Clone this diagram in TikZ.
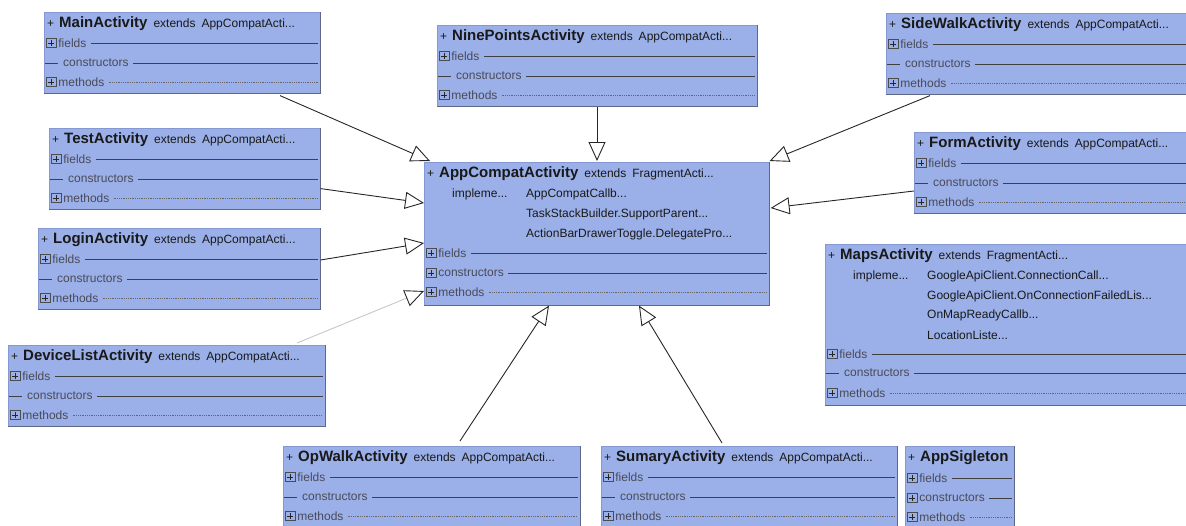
\documentclass[tikz,border=0pt]{standalone}
\usepackage{fontspec}
\setmainfont{Liberation Sans}
\usetikzlibrary{calc}
\usetikzlibrary{positioning}
\usetikzlibrary{arrows.meta}
\definecolor{classfill}{HTML}{9BB0E8}
\definecolor{classedge}{HTML}{8598D2}
\definecolor{classshade}{HTML}{5F6788}
\definecolor{rowgray}{HTML}{4A4A58}
\tikzstyle{classbox} = [draw=classedge, fill=classfill, line width=0.6pt, inner sep=0pt, anchor=north west]
\tikzstyle{titletext} = [anchor=west, inner sep=0pt, font=\fontsize{12}{14}\selectfont, text=black!90]
\tikzstyle{rowtext} = [anchor=west, inner sep=0pt, font=\fontsize{12}{14}\selectfont, text=rowgray]
\tikzstyle{plusbox} = [draw=black!70, line width=0.7pt, minimum size=9.5pt, inner sep=0pt, path picture={
    \draw[black!85, line width=1pt] ([xshift=-2.8pt]path picture bounding box.center) -- ([xshift=2.8pt]path picture bounding box.center)
      ([yshift=-2.8pt]path picture bounding box.center) -- ([yshift=2.8pt]path picture bounding box.center);}]
\tikzstyle{solidrow} = [draw=black!75, line width=0.8pt]
\tikzstyle{dottedrow} = [draw=black!60, line width=0.6pt, dash pattern=on 0.6pt off 1.2pt]
\tikzstyle{inherit} = [draw=black!85, line width=0.9pt, -{Triangle[open, length=19pt, width=17pt]}]
\tikzstyle{weakinherit} = [draw=black!22, line width=0.9pt, -{Triangle[open, length=19pt, width=17pt, color=black!85]}]

\newcommand{\classnode}[5]{%
  \node[classbox, minimum width=#4pt, minimum height=#5pt] (#1) at (#2,#3) {};
  \draw[classshade, line width=1.4pt] (#1.north east) -- (#1.south east) -- (#1.south west);}
\newcommand{\classtitle}[3]{%
  \node[titletext] (#1-title) at ($(#1.north west)+(3,12)$) {+\hspace{5pt}{\fontsize{15}{18}\selectfont\bfseries #2}\hspace{6pt}#3};}
\newcommand{\plusrow}[5]{%
  \node[plusbox, anchor=west] (#1-#2-icon) at ($(#1.north west)+(2,#3)$) {};
  \node[rowtext] (#1-#2) at ($(#1-#2-icon.east)+(2,0)$) {#4};
  \draw[#5] ($(#1-#2.east)+(4,0)$) -- ($(#1-#2.east -| #1.east)+(-3,0)$);}
\newcommand{\dashrow}[5]{%
  \coordinate (#1-#2-icon) at ($(#1.north west)+(1,#3)$);
  \draw[solidrow] (#1-#2-icon) -- ++(13,0);
  \node[rowtext] (#1-#2) at ($(#1-#2-icon)+(18,0)$) {#4};
  \draw[#5] ($(#1-#2.east)+(4,0)$) -- ($(#1-#2.east -| #1.east)+(-3,0)$);}
\newcommand{\activityclass}[6]{%
  \classnode{#1}{#2}{#3}{#4}{81}
  \classtitle{#1}{#5}{extends\hspace{6pt}#6}
  \plusrow{#1}{f}{31}{fields}{solidrow}
  \dashrow{#1}{c}{51}{constructors}{solidrow}
  \plusrow{#1}{m}{70}{methods}{dottedrow}}

\begin{document}
\begin{tikzpicture}[x=1pt, y=-1pt]
    \useasboundingbox (0,0) rectangle (1186,525);

    \activityclass{main}{44}{12}{276}{MainActivity}{AppCompatActi...}
    \activityclass{nine}{437}{25}{320}{NinePointsActivity}{AppCompatActi...}
    \activityclass{sidewalk}{886}{13}{302}{SideWalkActivity}{AppCompatActi...}
    \activityclass{test}{49}{128}{271}{TestActivity}{AppCompatActi...}
    \activityclass{form}{914}{132}{274}{FormActivity}{AppCompatActi...}
    \activityclass{login}{38}{228}{282}{LoginActivity}{AppCompatActi...}
    \activityclass{devicelist}{8}{345}{317}{DeviceListActivity}{AppCompatActi...}
    \activityclass{opwalk}{283}{446}{297}{OpWalkActivity}{AppCompatActi...}
    \activityclass{sumary}{601}{446}{296}{SumaryActivity}{AppCompatActi...}

    \classnode{appcompat}{424}{162}{345}{143}
    \classtitle{appcompat}{AppCompatActivity}{extends\hspace{6pt}FragmentActi...}
    \node[rowtext, text=black!90] (appcompat-impl) at ($(appcompat.north west)+(28,32)$) {impleme...};
    \node[rowtext, text=black!90] (appcompat-i1) at ($(appcompat.north west)+(102,32)$) {AppCompatCallb...};
    \node[rowtext, text=black!90] (appcompat-i2) at ($(appcompat.north west)+(102,52)$) {TaskStackBuilder.SupportParent...};
    \node[rowtext, text=black!90] (appcompat-i3) at ($(appcompat.north west)+(102,72)$) {ActionBarDrawerToggle.DelegatePro...};
    \plusrow{appcompat}{f}{91}{fields}{solidrow}
    \plusrow{appcompat}{c}{111}{constructors}{solidrow}
    \plusrow{appcompat}{m}{130}{methods}{dottedrow}

    \classnode{maps}{825}{244}{363}{161}
    \classtitle{maps}{MapsActivity}{extends\hspace{6pt}FragmentActi...}
    \node[rowtext, text=black!90] (maps-impl) at ($(maps.north west)+(28,32)$) {impleme...};
    \node[rowtext, text=black!90] (maps-i1) at ($(maps.north west)+(102,32)$) {GoogleApiClient.ConnectionCall...};
    \node[rowtext, text=black!90] (maps-i2) at ($(maps.north west)+(102,52)$) {GoogleApiClient.OnConnectionFailedLis...};
    \node[rowtext, text=black!90] (maps-i3) at ($(maps.north west)+(102,71)$) {OnMapReadyCallb...};
    \node[rowtext, text=black!90] (maps-i4) at ($(maps.north west)+(102,91)$) {LocationListe...};
    \plusrow{maps}{f}{110}{fields}{solidrow}
    \dashrow{maps}{c}{129}{constructors}{solidrow}
    \plusrow{maps}{m}{149}{methods}{dottedrow}

    \classnode{sigleton}{905}{446}{109}{81}
    \classtitle{sigleton}{AppSigleton}{}
    \plusrow{sigleton}{f}{32}{fields}{solidrow}
    \plusrow{sigleton}{c}{52}{constructors}{solidrow}
    \plusrow{sigleton}{m}{71}{methods}{dottedrow}

    \draw[inherit] ($(main.south west)+(236,2)$) -- ($(appcompat.north west)+(6,-1)$);
    \draw[inherit] ($(nine.south west)+(160,0)$) -- ($(appcompat.north west)+(173,-1)$);
    \draw[inherit] ($(sidewalk.south west)+(44,1)$) -- ($(appcompat.north east)+(0,-1)$);
    \draw[inherit] ($(test.south east)+(0,-21)$) -- ($(appcompat.north west)+(0,41)$);
    \draw[inherit] ($(form.north west)+(0,59)$) -- ($(appcompat.north east)+(1,46)$);
    \draw[inherit] ($(login.north east)+(0,32)$) -- ($(appcompat.north west)+(0,81)$);
    \draw[weakinherit] ($(devicelist.north west)+(289,-2)$) -- ($(appcompat.north west)+(0,129)$);
    \draw[inherit] ($(opwalk.north west)+(177,-5)$) -- ($(appcompat.south west)+(125,0)$);
    \draw[inherit] ($(sumary.north west)+(121,-3)$) -- ($(appcompat.south west)+(215,0)$);
\end{tikzpicture}
\end{document}
